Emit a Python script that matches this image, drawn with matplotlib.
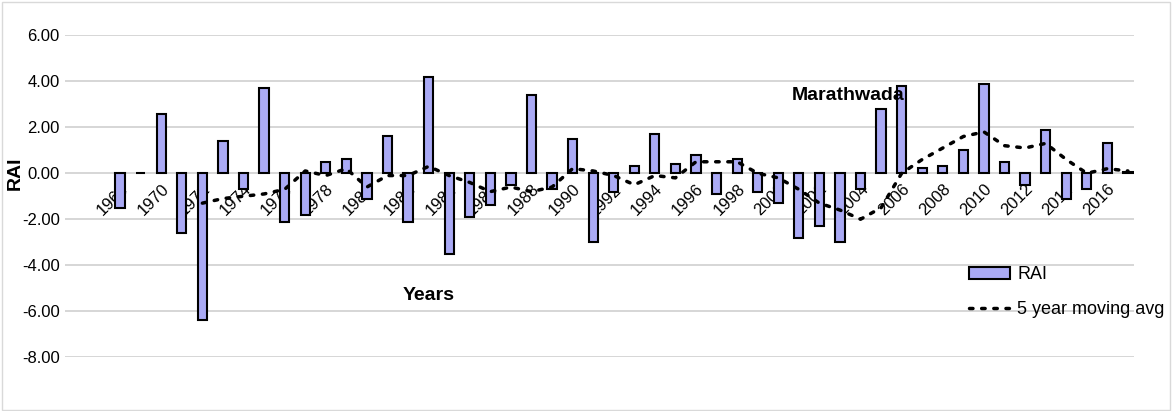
import matplotlib.pyplot as plt
import numpy as np
plt.rcParams['font.family'] = ['Liberation Sans', 'DejaVu Sans']

years = list(range(1968, 2018))
rai = [-1.5, 0.02, 2.6, -2.6, -6.4, 1.4, -0.7, 3.7, -2.1, -1.8,
       0.5, 0.6, -1.1, 1.6, -2.1, 4.2, -3.5, -1.9, -1.4, -0.5,
       3.4, -0.7, 1.5, -3.0, -0.8, 0.3, 1.7, 0.4, 0.8, -0.9,
       0.6, -0.8, -1.3, -2.8, -2.3, -3.0, -0.7, 2.8, 3.8, 0.25,
       0.3, 1.0, 3.9, 0.5, -0.5, 1.9, -1.1, -0.7, 1.3, 0.05]
ma_years = list(range(1972, 2018))
ma = [-1.3, -1.1, -1.0, -0.9, -0.7, 0.1, -0.1, 0.2, -0.6, -0.1,
      -0.1, 0.3, -0.1, -0.4, -0.8, -0.6, -0.8, -0.6, 0.2, 0.1,
      -0.1, -0.5, -0.1, -0.2, 0.5, 0.5, 0.5, 0.0, -0.2, -0.7,
      -1.3, -1.6, -2.0, -1.5, 0.0, 0.6, 1.1, 1.6, 1.8, 1.2,
      1.1, 1.3, 0.6, 0.0, 0.2, 0.1]

fig = plt.figure(figsize=(11.74, 4.11), dpi=100)
fig.patches.append(plt.Rectangle((0.002, 0.003), 0.995, 0.993, transform=fig.transFigure,
                                 fill=False, edgecolor='#d9d9d9', linewidth=1))
ax = fig.add_axes([0.055, 0.131, 0.911, 0.783])
bars = ax.bar(years, rai, width=0.45, color='#aaaaf5', edgecolor='black', linewidth=1.5, label='RAI', zorder=3)
line, = ax.plot(ma_years, ma, color='black', linestyle=(0, (1, 2.5)), linewidth=2.5,
                dash_capstyle='round', label='5 year moving avg', zorder=4)
ax.set_ylim(-8, 6)
ax.set_xlim(1965.3, 2017.3)
ax.set_yticks(np.arange(-8, 7, 2))
ax.set_yticklabels([f'{v:.2f}' for v in np.arange(-8, 7, 2)], fontsize=12)
ax.spines['bottom'].set_position(('data', 0))
ax.set_xticks(years[::2])
ax.set_xticklabels([str(y) for y in years[::2]], rotation=45, ha='right', rotation_mode='anchor', fontsize=12)
ax.tick_params(length=0)
ax.tick_params(axis='x', pad=6)
ax.grid(axis='y', color='#d0d0d0', linewidth=1.2, zorder=0)
for s in ax.spines.values():
    s.set_visible(False)
ax.set_ylabel('RAI', fontsize=14, fontweight='bold')
ax.yaxis.set_label_coords(-0.038, 0.57)
ax.text(2003.4, 3.4, 'Marathwada', fontsize=14, fontweight='bold', ha='center', va='center')
ax.text(1983.0, -5.3, 'Years', fontsize=14, fontweight='bold', ha='center', va='center')
ax.legend([bars, line], ['RAI', '5 year moving avg'], loc='lower left',
          bbox_to_anchor=(0.83, 0.07), frameon=False, fontsize=13,
          handlelength=2.3, labelspacing=1.0, handletextpad=0.4)
fig.savefig('out.png', dpi=100)
